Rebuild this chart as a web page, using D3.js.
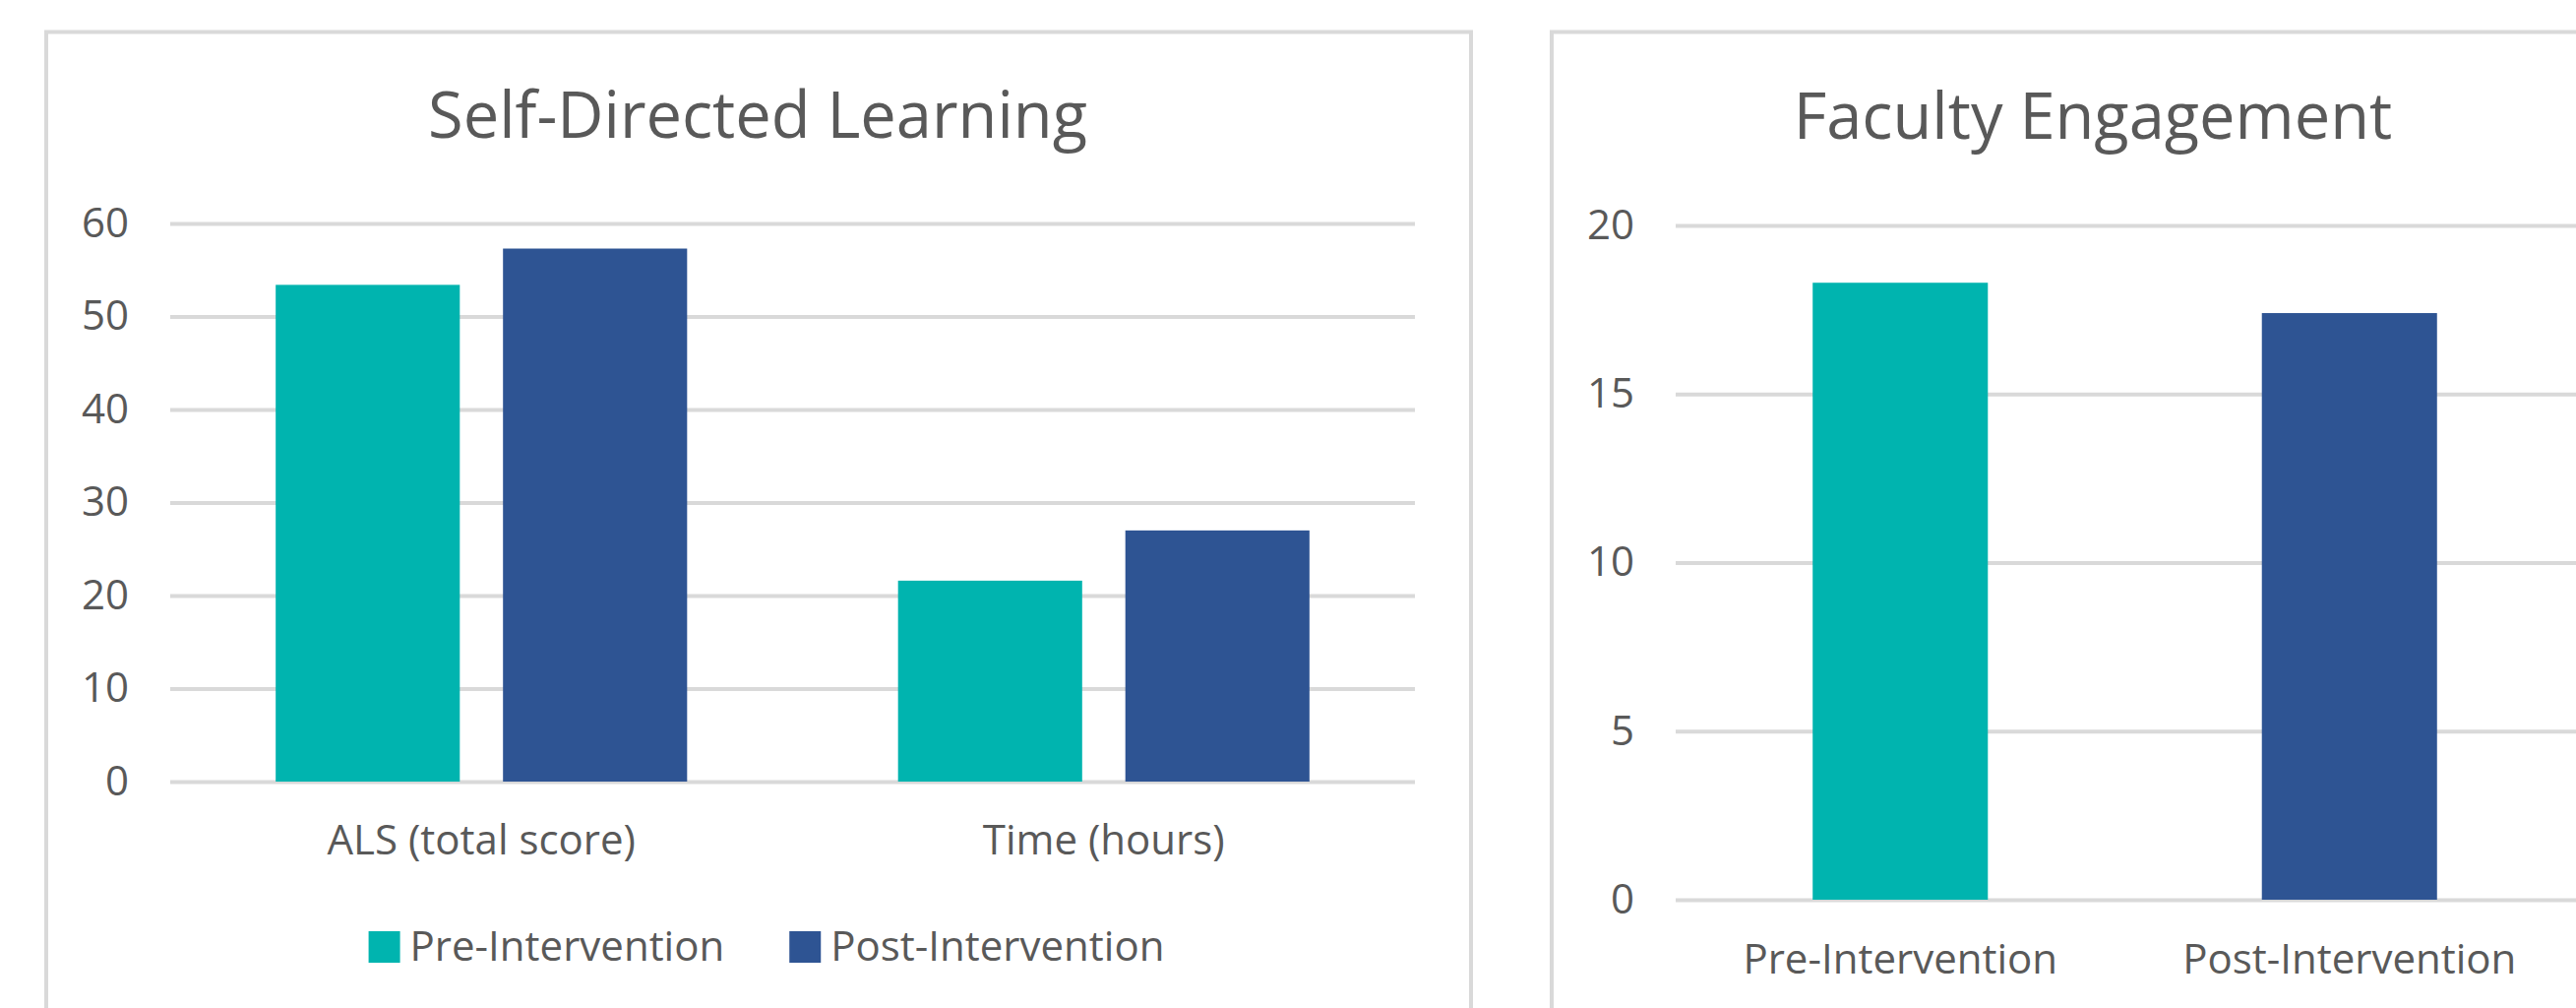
<!DOCTYPE html>
<html>
<head>
<meta charset="utf-8">
<script src="https://cdn.jsdelivr.net/npm/d3@7"></script>
<style>
  body { margin: 0; background: #fff; }
  svg { display: block; font-family: "Open Sans", "Noto Sans", sans-serif; }
</style>
</head>
<body>
<script>
// data
const series = ["Pre-Intervention", "Post-Intervention"];
const seriesColors = ["#00B4AF", "#2E5493"];

const sdlCategories = ["ALS (total score)", "Time (hours)"];
const sdlPre = [53.4, 21.6];
const sdlPost = [57.3, 27.0];
const sdlTicks = [0, 10, 20, 30, 40, 50, 60];

const facCategories = ["Pre-Intervention", "Post-Intervention"];
const facValues = [18.3, 17.4];
const facTicks = [0, 5, 10, 15, 20];

const width = 2618;
const height = 1024;
const textColor = "#595959";
const gridColor = "#d9d9d9";

const svg = d3.select("body").append("svg")
  .attr("width", width)
  .attr("height", height);

// panel frames
svg.append("rect")
  .attr("x", 47).attr("y", 32.5)
  .attr("width", 1448).attr("height", 1100)
  .attr("fill", "#fff").attr("stroke", gridColor).attr("stroke-width", 4);
svg.append("rect")
  .attr("x", 1577).attr("y", 32.5)
  .attr("width", 1200).attr("height", 1100)
  .attr("fill", "#fff").attr("stroke", gridColor).attr("stroke-width", 4);

// shared: gridlines + tick labels
function drawYAxis(g, y, ticks, x0, x1) {
  const axis = d3.axisLeft(y).tickValues(ticks).tickSize(-(x1 - x0)).tickPadding(42);
  const ag = g.append("g").attr("transform", `translate(${x0},0)`).call(axis);
  ag.attr("font-family", null).attr("font-size", null);
  ag.select(".domain").remove();
  ag.selectAll(".tick line").attr("stroke", gridColor).attr("stroke-width", 4);
  ag.selectAll(".tick text")
    .attr("fill", textColor)
    .style("font-size", "42px");
}

// ---- Self-Directed Learning ----
{
  const g = svg.append("g");
  const x0 = 173, x1 = 1438;
  const y = d3.scaleLinear().domain([0, 60]).range([794, 227]);
  const xCat = d3.scaleBand().domain(sdlCategories).range([x0, x1]);
  const xSer = d3.scaleBand().domain(series).range([0, xCat.bandwidth()])
    .paddingInner(0.19).paddingOuter(0.464);

  drawYAxis(g, y, sdlTicks, x0, x1);

  const rows = sdlCategories.map((c, i) => ({ cat: c, vals: [sdlPre[i], sdlPost[i]] }));
  const grp = g.selectAll("g.cat").data(rows).join("g")
    .attr("class", "cat")
    .attr("transform", d => `translate(${xCat(d.cat)},0)`);
  grp.selectAll("rect").data(d => d.vals.map((v, j) => ({ s: series[j], v, c: seriesColors[j] })))
    .join("rect")
    .attr("x", d => xSer(d.s))
    .attr("width", xSer.bandwidth())
    .attr("y", d => y(d.v))
    .attr("height", d => y(0) - y(d.v))
    .attr("fill", d => d.c);

  g.selectAll("text.cat").data(sdlCategories).join("text")
    .attr("class", "cat")
    .attr("x", d => xCat(d) + xCat.bandwidth() / 2)
    .attr("y", 868)
    .attr("text-anchor", "middle")
    .attr("fill", textColor)
    .style("font-size", "42px")
    .text(d => d);

  g.append("text")
    .attr("x", 770).attr("y", 140)
    .attr("text-anchor", "middle")
    .attr("fill", textColor)
    .style("font-size", "65px")
    .text("Self-Directed Learning");

  // legend
  const leg = g.append("g");
  let lx = 0;
  series.forEach((s, i) => {
    const item = leg.append("g").attr("transform", `translate(${lx},0)`);
    item.append("rect").attr("x", 0).attr("y", 946).attr("width", 32).attr("height", 32)
      .attr("fill", seriesColors[i]);
    const t = item.append("text").attr("x", 42).attr("y", 976)
      .attr("fill", textColor).style("font-size", "42px").text(s);
    lx += 42 + t.node().getComputedTextLength() + 66;
  });
  const legW = lx - 66;
  leg.attr("transform", `translate(${779 - legW / 2},0)`);
}

// ---- Faculty Engagement ----
{
  const g = svg.append("g");
  const x0 = 1703, x1 = 2616;
  const y = d3.scaleLinear().domain([0, 20]).range([914, 229]);
  const x = d3.scaleBand().domain(facCategories).range([x0, x1])
    .paddingInner(0.61).paddingOuter(0.305);

  drawYAxis(g, y, facTicks, x0, 2618 + 10);

  g.selectAll("rect.bar").data(facCategories.map((c, i) => ({ c, v: facValues[i], col: seriesColors[i] })))
    .join("rect")
    .attr("class", "bar")
    .attr("x", d => x(d.c))
    .attr("width", x.bandwidth())
    .attr("y", d => y(d.v))
    .attr("height", d => y(0) - y(d.v))
    .attr("fill", d => d.col);

  g.selectAll("text.cat").data(facCategories).join("text")
    .attr("class", "cat")
    .attr("x", d => x(d) + x.bandwidth() / 2)
    .attr("y", 989)
    .attr("text-anchor", "middle")
    .attr("fill", textColor)
    .style("font-size", "42px")
    .text(d => d);

  g.append("text")
    .attr("x", 2127).attr("y", 141)
    .attr("text-anchor", "middle")
    .attr("fill", textColor)
    .style("font-size", "65px")
    .text("Faculty Engagement");
}
</script>
</body>
</html>
